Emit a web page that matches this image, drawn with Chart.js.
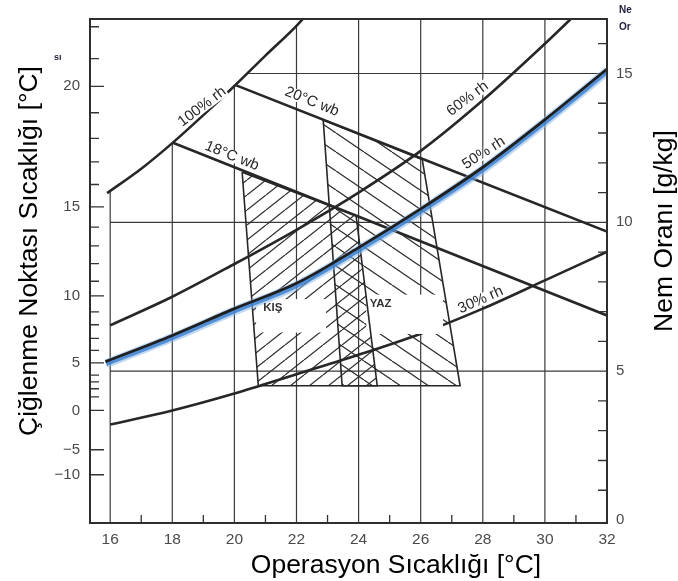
<!DOCTYPE html>
<html>
<head>
<meta charset="utf-8">
<title>Konfor bölgesi</title>
<script src="https://cdn.jsdelivr.net/npm/chart.js@4.4.2/dist/chart.umd.min.js"></script>
<style>
  html, body { margin: 0; padding: 0; background: #fff; }
  canvas { display: block; }
</style>
</head>
<body>
<canvas id="chart" width="678" height="581"></canvas>
<script>
// x = operasyon sıcaklığı [°C], y = nem oranı [g/kg]

// ---------- AXES ----------
const xTicks   = [16, 18, 20, 22, 24, 26, 28, 30, 32];
const xGrid    = [16, 18, 20, 22, 24, 26, 28, 30];
const xMinor   = [17, 19, 21, 23, 25, 27, 29, 31];
const wTicks   = [0, 5, 10, 15];
const wGrid    = [5, 10, 15];
const wMinor   = [1, 2, 3, 4, 6, 7, 8, 9, 11, 12, 13, 14, 16];
// left axis: dew point labels placed at their humidity ratio
const dpLabels = ["−10", "−5", "0", "5", "10", "15", "20"];
const dpTickW  = [1.52, 2.36, 3.68, 5.28, 7.53, 10.52, 14.57];
const dpMinorW = [4.14, 4.41, 4.64, 4.87, 5.7, 6.1, 6.56, 6.99, 8.02, 8.61, 9.21, 9.84,
                  11.27, 12.03, 12.82, 13.68, 15.5, 16.57];

// ---------- CURVES ----------
const rh100T = [15.9, 17, 18, 19, 20, 21, 22, 22.6];
const rh100W = [10.98, 11.8, 12.66, 13.6, 14.58, 15.6, 16.6, 17.3];
const rh60T  = [16, 18, 20, 22, 24, 26, 28, 30, 31.2];
const rh60W  = [6.54, 7.5, 8.6, 9.75, 11.0, 12.4, 14.1, 16.0, 17.2];
const rh50T  = [15.85, 18, 20, 22, 24, 26, 28, 30, 32];
const rh50W  = [5.32, 6.2, 7.1, 7.95, 9.15, 10.45, 11.85, 13.45, 15.15];
const rh30T  = [16, 18, 20, 22, 24, 26, 28, 30, 32];
const rh30W  = [3.21, 3.68, 4.25, 4.9, 5.55, 6.26, 7.1, 8.05, 9.01];
const wb18T  = [18, 32];
const wb18W  = [12.68, 6.87];
const wb20T  = [20.06, 32];
const wb20W  = [14.6, 9.69];

// ---------- COMFORT ZONES ----------
const winterT = [20.25, 23.92, 24.6, 20.77];
const winterW = [11.68, 10.22, 4.51, 4.51];
const summerT = [22.86, 26.05, 27.27, 23.47];
const summerW = [13.44, 12.11, 4.51, 4.51];

// ---------- ANNOTATIONS ----------
const curveLabels = [
  { text: "100% rh", t: 18.96, w: 13.88, rot: -37 },
  { text: "60% rh",  t: 27.51, w: 14.15, rot: -37 },
  { text: "50% rh",  t: 28.03, w: 12.33, rot: -33 },
  { text: "30% rh",  t: 27.93, w: 7.39,  rot: -24 },
  { text: "20°C wb", t: 22.5,  w: 14.05, rot: 22 },
  { text: "18°C wb", t: 19.92, w: 12.23, rot: 22 }
];
const zoneLabels = [
  { text: "KIŞ", t: 21.24, w: 7.12 },
  { text: "YAZ", t: 24.71, w: 7.26 }
];
const whiteBoxes = [
  { t0: 20.7,  t1: 22.95, w0: 6.3,  w1: 7.42 },
  { t0: 24.25, t1: 26.72, w0: 6.25, w1: 7.57 }
];

const FONT = "'Liberation Sans', Arial, sans-serif";
const INK  = "#272727";

const pts = (ts, ws, close) => {
  const d = ts.map((t, i) => ({ x: t, y: ws[i] }));
  if (close) d.push({ x: ts[0], y: ws[0] });
  return d;
};

function interp(xs, ys, v) {
  if (v <= xs[0]) return ys[0];
  for (let i = 1; i < xs.length; i++) {
    if (v <= xs[i]) return ys[i - 1] + (ys[i] - ys[i - 1]) * (v - xs[i - 1]) / (xs[i] - xs[i - 1]);
  }
  return ys[ys.length - 1];
}

// hatch pattern: dir 1 = "/", dir -1 = "\"
function hatch(w, h, dir) {
  const c = document.createElement("canvas");
  c.width = w; c.height = h;
  const g = c.getContext("2d");
  g.strokeStyle = "#2f2f2f";
  g.lineWidth = 1.25;
  g.beginPath();
  for (const dx of [-w, 0, w]) {
    if (dir > 0) { g.moveTo(dx, h); g.lineTo(dx + w, 0); }
    else         { g.moveTo(dx, 0); g.lineTo(dx + w, h); }
  }
  g.stroke();
  return g.createPattern(c, "repeat");
}

const lineDs = (id, data, order, extra) => Object.assign({
  id, data, order, xAxisID: "x", yAxisID: "y",
  showLine: true, pointRadius: 0, borderColor: INK, borderWidth: 2.6,
  cubicInterpolationMode: "monotone", fill: false, clip: 0
}, extra || {});

const datasets = [
  lineDs("summerFill", pts(summerT, summerW), 30, { fill: "shape", borderWidth: 0, borderColor: "transparent", backgroundColor: hatch(28, 19, -1), cubicInterpolationMode: "default", tension: 0 }),
  lineDs("winterFill", pts(winterT, winterW), 29, { fill: "shape", borderWidth: 0, borderColor: "transparent", backgroundColor: hatch(19, 15, 1), cubicInterpolationMode: "default", tension: 0 }),
  lineDs("rh30", pts(rh30T, rh30W), 28),
  lineDs("winterEdge", pts(winterT, winterW, true), 20, { borderWidth: 1.6, cubicInterpolationMode: "default", tension: 0 }),
  lineDs("summerEdge", pts(summerT, summerW, true), 19, { borderWidth: 1.6, cubicInterpolationMode: "default", tension: 0 }),
  lineDs("rh100", pts(rh100T, rh100W), 10),
  lineDs("rh60", pts(rh60T, rh60W), 9),
  lineDs("wb18", pts(wb18T, wb18W), 8),
  lineDs("wb20", pts(wb20T, wb20W), 7),
  lineDs("glowA", pts(rh50T, rh50W), 6, { borderWidth: 9, borderColor: "rgba(140,185,235,0.55)" }),
  lineDs("glowB", pts(rh50T, rh50W), 5, { borderWidth: 5, borderColor: "rgba(55,125,205,0.8)" }),
  lineDs("rh50", pts(rh50T, rh50W), 4, { borderWidth: 2.8, borderColor: "#1f1f1f" })
];

const dsId = (chart, i) => chart.data.datasets[i].id;

const decor = {
  id: "decor",
  beforeDatasetsDraw(chart) {
    const { ctx, chartArea: a, scales: { x, y } } = chart;
    ctx.save();
    ctx.strokeStyle = "#3a3a3a";
    ctx.lineWidth = 1.2;
    ctx.beginPath();
    xGrid.forEach(t => {
      const px = x.getPixelForValue(t);
      const top = Math.max(a.top, y.getPixelForValue(interp(rh100T, rh100W, t)));
      ctx.moveTo(px, top); ctx.lineTo(px, a.bottom);
    });
    wGrid.forEach(v => {
      const py = y.getPixelForValue(v);
      const t0 = Math.max(16, interp(rh100W, rh100T, v));
      ctx.moveTo(x.getPixelForValue(t0), py); ctx.lineTo(a.right, py);
    });
    ctx.stroke();
    ctx.restore();
  },
  beforeDatasetDraw(chart, args) {
    const id = dsId(chart, args.index);
    if (id === "glowA" || id === "glowB") {
      chart.ctx.save();
      chart.ctx.translate(0.5, 2);
    }
  },
  afterDatasetDraw(chart, args) {
    const id = dsId(chart, args.index);
    const { ctx, scales: { x, y } } = chart;
    if (id === "glowA" || id === "glowB") ctx.restore();
    if (id === "rh30") {
      ctx.save();
      ctx.fillStyle = "#fff";
      whiteBoxes.forEach(b => {
        const x0 = x.getPixelForValue(b.t0), x1 = x.getPixelForValue(b.t1);
        const y0 = y.getPixelForValue(b.w1), y1 = y.getPixelForValue(b.w0);
        ctx.fillRect(x0, y0, x1 - x0, y1 - y0);
      });
      ctx.restore();
    }
  },
  afterDatasetsDraw(chart) {
    const { ctx, chartArea: a, scales: { x, y } } = chart;
    ctx.save();

    // inward tick marks
    ctx.strokeStyle = "#333";
    ctx.lineWidth = 1.3;
    ctx.beginPath();
    dpTickW.forEach(v => { const py = y.getPixelForValue(v); ctx.moveTo(a.left, py); ctx.lineTo(a.left + 14, py); });
    dpMinorW.forEach(v => { const py = y.getPixelForValue(v); ctx.moveTo(a.left, py); ctx.lineTo(a.left + 9, py); });
    wMinor.forEach(v => { const py = y.getPixelForValue(v); ctx.moveTo(a.right - 9, py); ctx.lineTo(a.right, py); });
    xMinor.forEach(t => { const px = x.getPixelForValue(t); ctx.moveTo(px, a.bottom - 8); ctx.lineTo(px, a.bottom); });
    ctx.stroke();

    // frame
    ctx.lineWidth = 2;
    ctx.strokeStyle = "#2e2e2e";
    ctx.strokeRect(a.left, a.top, a.right - a.left, a.bottom - a.top);

    // curve labels
    ctx.font = "15px " + FONT;
    ctx.textAlign = "center";
    ctx.textBaseline = "middle";
    curveLabels.forEach(l => {
      const px = x.getPixelForValue(l.t), py = y.getPixelForValue(l.w);
      const tw = ctx.measureText(l.text).width;
      ctx.save();
      ctx.translate(px, py);
      ctx.rotate(l.rot * Math.PI / 180);
      ctx.fillStyle = "#fff";
      ctx.fillRect(-tw / 2 - 1, -6, tw + 2, 12);
      ctx.fillStyle = INK;
      ctx.fillText(l.text, 0, 0);
      ctx.restore();
    });

    ctx.font = "bold 11.5px " + FONT;
    ctx.fillStyle = "#333";
    zoneLabels.forEach(l => ctx.fillText(l.text, x.getPixelForValue(l.t), y.getPixelForValue(l.w)));

    // axis titles
    ctx.fillStyle = "#000";
    ctx.font = "26.5px " + FONT;
    ctx.textBaseline = "alphabetic";
    ctx.fillText("Operasyon Sıcaklığı [°C]", 396, 573);
    ctx.save();
    ctx.translate(37, 251);
    ctx.rotate(-Math.PI / 2);
    ctx.fillText("Çiğlenme Noktası Sıcaklığı [°C]", 0, 0);
    ctx.restore();
    ctx.save();
    ctx.translate(672, 231);
    ctx.rotate(-Math.PI / 2);
    ctx.fillText("Nem Oranı [g/kg]", 0, 0);
    ctx.restore();

    // clipped remnants of the original axis captions
    ctx.textAlign = "left";
    ctx.font = "bold 10px " + FONT;
    ctx.fillStyle = "#1d1d3a";
    ctx.fillText("Ne", 619, 13);
    ctx.fillText("Or", 619, 30);
    ctx.font = "bold 9px " + FONT;
    ctx.fillText("sı", 54, 60);

    ctx.restore();
  }
};

const tickFont = { family: FONT, size: 15 };

new Chart(document.getElementById("chart"), {
  type: "scatter",
  data: { datasets },
  options: {
    responsive: false,
    animation: false,
    devicePixelRatio: 1,
    layout: { padding: { top: 13, left: 0, right: 0, bottom: 0 } },
    plugins: { legend: { display: false }, tooltip: { enabled: false } },
    scales: {
      x: {
        type: "linear", min: 15.35, max: 32,
        grid: { display: false, drawTicks: false }, border: { display: false },
        afterBuildTicks: s => { s.ticks = xTicks.map(v => ({ value: v })); },
        afterFit: s => { s.height = 58; },
        ticks: { font: { family: FONT, size: 15.5 }, color: "#4a4a4a", padding: 7, autoSkip: false, maxRotation: 0 }
      },
      dp: {
        axis: "y", type: "linear", position: "left", min: -0.1, max: 16.83,
        grid: { display: false, drawTicks: false }, border: { display: false },
        afterBuildTicks: s => { s.ticks = dpTickW.map(v => ({ value: v })); },
        afterFit: s => { s.width = 90; },
        ticks: { font: tickFont, color: "#4a4a4a", padding: 10, autoSkip: false,
                 callback: (v, i) => dpLabels[i] }
      },
      y: {
        type: "linear", position: "right", min: -0.1, max: 16.83,
        grid: { display: false, drawTicks: false }, border: { display: false },
        afterBuildTicks: s => { s.ticks = wTicks.map(v => ({ value: v })); },
        afterFit: s => { s.width = 71; },
        ticks: { font: tickFont, color: "#4a4a4a", padding: 9, autoSkip: false }
      }
    }
  },
  plugins: [decor]
});
</script>
</body>
</html>
